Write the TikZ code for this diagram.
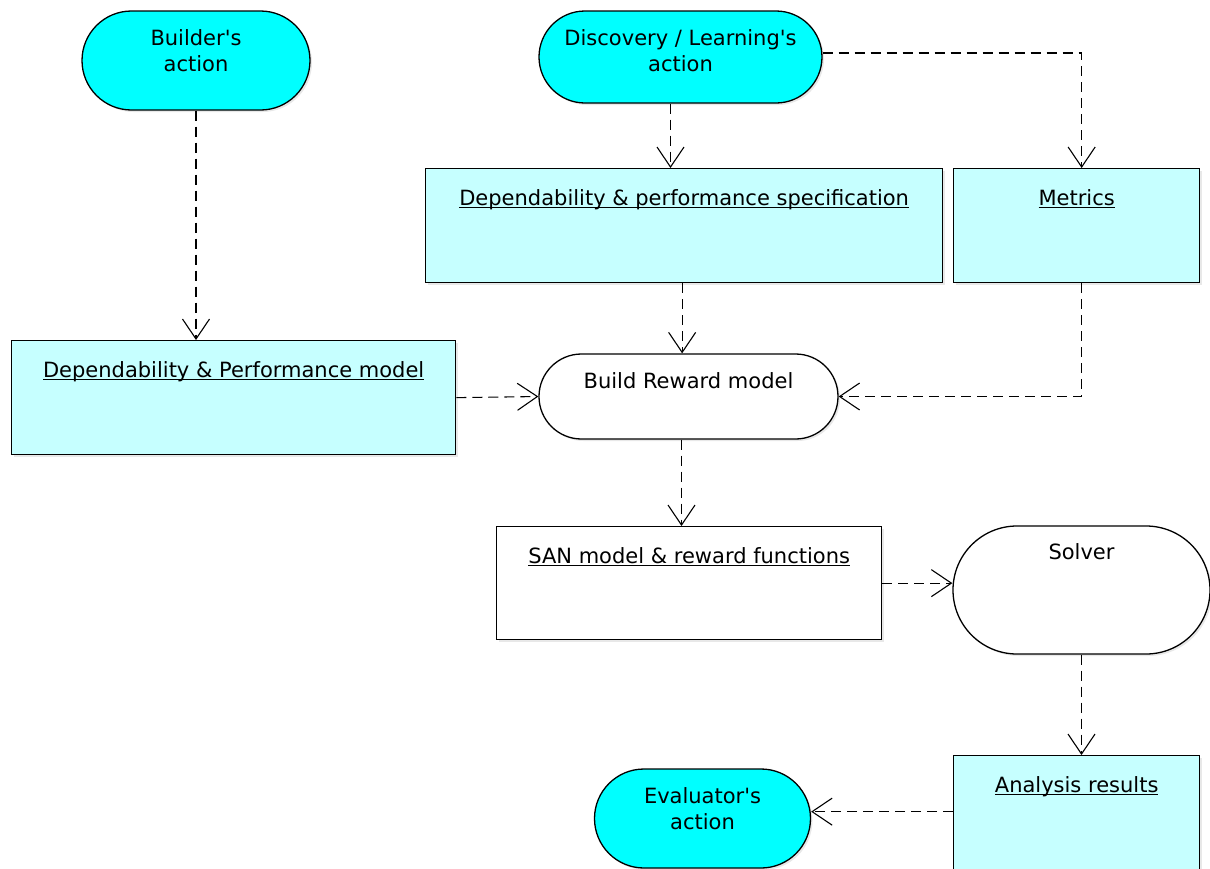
\documentclass[tikz,border=0pt]{standalone}
\usepackage{fontspec}
\setmainfont{DejaVu Sans}
\usepackage{tikz}
\usetikzlibrary{arrows.meta,shapes.misc,shadows}

\definecolor{actioncyan}{RGB}{0,255,255}
\definecolor{artifactcyan}{RGB}{198,255,255}

\newcommand{\ulabel}[1]{\setbox0\hbox{#1}\rlap{\rule[-2.5pt]{\wd0}{1.1pt}}\box0}

\tikzset{
  shade/.style={drop shadow={shadow xshift=2pt,shadow yshift=-2pt,opacity=0.18}},
  action/.style={rounded rectangle,draw,line width=1.3pt,fill=actioncyan,inner sep=0pt,align=center,shade},
  activity/.style={rounded rectangle,draw,line width=1.3pt,fill=white,inner sep=0pt,align=center,shade},
  artifact/.style={rectangle,draw,line width=1.3pt,fill=artifactcyan,inner sep=0pt,align=center,shade},
  flow/.style={->,line width=1.1pt,dash pattern=on 10pt off 6pt}
}

\begin{document}
\begin{tikzpicture}[x=1pt,y=-1pt,font=\fontsize{21}{26}\selectfont]
\useasboundingbox (0,0) rectangle (1210,868);
\begin{scope}[>={Straight Barb[length=20pt,width=27pt,line width=1.1pt]}]

    \node[action,minimum width=228pt,minimum height=99pt,text height=60pt,text depth=39pt] (builder) at (196,60.5) {Builder\textquotesingle s\\action};
    \node[action,minimum width=283pt,minimum height=92pt,text height=60pt,text depth=32pt] (discovery) at (680.5,57) {\makebox[190pt]{Discovery / Learning\textquotesingle s}\\action};
    \node[artifact,anchor=north west,minimum width=517pt,text height=37pt,text depth=77pt] (spec) at (425,168) {\ulabel{Dependability \& performance specification}};
    \node[artifact,anchor=north west,minimum width=246pt,text height=37pt,text depth=77pt] (metrics) at (953,168) {\ulabel{Metrics}};
    \node[artifact,anchor=north west,minimum width=444pt,text height=37pt,text depth=77pt] (dpmodel) at (11,340) {\ulabel{Dependability \& Performance model}};
    \node[activity,minimum width=299pt,minimum height=85pt,text height=34pt,text depth=51pt] (reward) at (688.5,396.5) {Build Reward model};
    \node[rectangle,draw,line width=1.3pt,fill=white,inner sep=0pt,shade,anchor=north west,minimum width=385pt,text height=37pt,text depth=76pt] (san) at (496,526) {\ulabel{SAN model \& reward functions}};
    \node[activity,minimum width=257pt,minimum height=128pt,text height=33pt,text depth=95pt] (solver) at (1081.5,590) {Solver};
    \node[artifact,anchor=north west,minimum width=246pt,text height=37pt,text depth=77pt] (results) at (953,755) {\ulabel{Analysis results}};
    \node[action,minimum width=213pt,minimum height=99pt,text height=60pt,text depth=39pt] (evaluator) at (702.5,818.5) {Evaluator\textquotesingle s\\action};

    \draw[flow] (builder.south) -- (builder.south |- dpmodel.north);
    \draw[flow] ([xshift=-10pt]discovery.south) -- ([xshift=-10pt]discovery.south |- spec.north);
    \draw[flow] ([yshift=4pt]discovery.east) -| ([xshift=5pt]metrics.north);
    \draw[flow] ([xshift=-2pt]spec.south) -- ([xshift=-2pt]spec.south |- reward.north);
    \draw[flow] ([xshift=5pt]metrics.south) |- (reward.east);
    \draw[flow] (dpmodel.east) -- (reward.west);
    \draw[flow] ([xshift=-7pt]reward.south) -- ([xshift=-7pt]reward.south |- san.north);
    \draw[flow] (san.east) -- (san.east -| solver.west);
    \draw[flow] (solver.south) -- (solver.south |- results.north);
    \draw[flow] ([yshift=1pt]results.west) -- ([yshift=1pt]results.west -| evaluator.east);

\end{scope}
\end{tikzpicture}
\end{document}
